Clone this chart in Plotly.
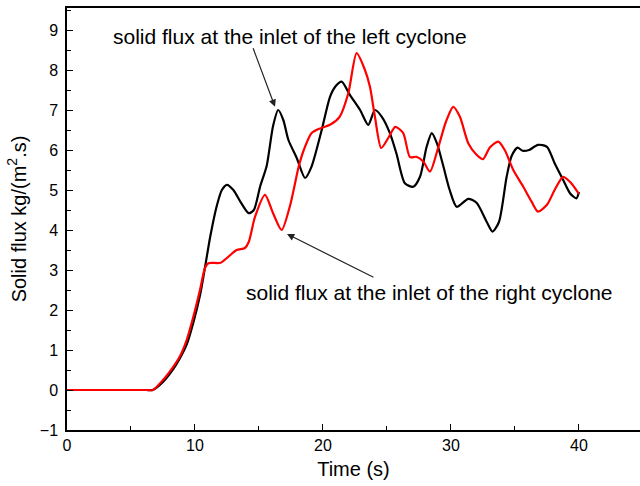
import plotly.graph_objects as go

# Time (s)
t_left = [0, 3.0, 6.2, 6.7, 7.5, 8.3, 8.8, 9.4, 9.9, 10.4, 10.8, 11.2, 11.7, 12.1, 12.5, 13.0, 13.6, 14.2,
          14.6, 15.1, 15.6, 16.1, 16.5, 16.9, 17.3, 17.95, 18.6, 19.1, 19.9, 20.55, 21.0, 21.46,
          22.1, 22.9, 23.54, 24.06, 24.6, 25.23, 25.75, 26.4, 27.05, 27.58, 28.1, 28.5, 28.9,
          29.4, 29.9, 30.45, 31.35, 32.0, 32.8, 33.25, 33.75, 34.35, 34.74, 35.2, 35.6, 36.1,
          36.8, 37.5, 38.1, 38.77, 39.3, 39.8, 40.0]
flux_left = [0, 0, 0, 0, 0.2, 0.52, 0.78, 1.18, 1.72, 2.38, 3.1, 3.85, 4.6, 5.0, 5.13, 5.0, 4.68, 4.42,
             4.5, 5.1, 5.6, 6.6, 7.0, 6.75, 6.25, 5.8, 5.3, 5.58, 6.5, 7.33, 7.6, 7.71,
             7.38, 7.0, 6.63, 7.0, 6.83, 6.42, 5.9, 5.17, 5.08, 5.33, 6.08, 6.42, 6.17,
             5.6, 5.0, 4.58, 4.78, 4.68, 4.2, 3.96, 4.2, 5.33, 5.85, 6.06, 5.98, 6.0,
             6.13, 6.08, 5.67, 5.25, 4.92, 4.79, 4.95]

t_right = [0, 3.0, 6.2, 6.7, 7.5, 8.3, 8.8, 9.35, 9.87, 10.39, 10.78, 11.04, 12.0, 12.6, 13.26, 13.9, 14.2,
           14.69, 15.47, 16.1, 16.77, 17.42, 18.1, 18.5, 19.1, 19.77, 20.55, 21.3, 21.98, 22.63,
           23.28, 23.67, 24.06, 24.55, 25.1, 25.65, 26.27, 26.8, 27.3, 27.84, 28.36, 28.95, 29.6,
           30.18, 30.7, 31.35, 32.0, 32.5, 33.05, 33.7, 34.2, 34.87, 35.65, 36.3, 36.8, 37.5,
           38.1, 38.77, 39.4, 40.0]
flux_right = [0, 0, 0, 0, 0.25, 0.58, 0.83, 1.25, 1.83, 2.5, 3.05, 3.17, 3.18, 3.33, 3.5, 3.55, 3.7,
              4.33, 4.88, 4.42, 4.0, 4.6, 5.58, 6.0, 6.42, 6.54, 6.63, 6.83, 7.42, 8.42,
              8.0, 7.58, 6.83, 6.05, 6.3, 6.58, 6.42, 5.82, 5.83, 5.71, 5.46, 6.0, 6.7,
              7.08, 6.83, 6.17, 5.88, 5.77, 6.07, 6.21, 6.0, 5.5, 5.08, 4.71, 4.46, 4.63,
              5.0, 5.33, 5.17, 4.9]

x_ticks = [0, 10, 20, 30, 40]
y_ticks = [-1, 0, 1, 2, 3, 4, 5, 6, 7, 8, 9]

FONT = "Arial, Liberation Sans, sans-serif"

fig = go.Figure()
fig.add_trace(go.Scatter(x=t_left, y=flux_left, mode="lines",
                         line=dict(color="black", width=2.2, shape="spline", smoothing=0.7),
                         name="left cyclone"))
fig.add_trace(go.Scatter(x=t_right, y=flux_right, mode="lines",
                         line=dict(color="#ff0000", width=2.2, shape="spline", smoothing=0.7),
                         name="right cyclone"))

fig.add_annotation(x=16.25, y=7.08, ax=14.5, ay=8.58, xref="x", yref="y", axref="x", ayref="y",
                   showarrow=True, arrowhead=2, arrowsize=1.2, arrowwidth=1.2, arrowcolor="#222",
                   text="")
fig.add_annotation(x=17.19, y=3.9, ax=24.06, ay=2.8, xref="x", yref="y", axref="x", ayref="y",
                   showarrow=True, arrowhead=2, arrowsize=1.2, arrowwidth=1.2, arrowcolor="#222",
                   text="")
fig.add_annotation(x=3.45, y=8.83, xref="x", yref="y", xanchor="left", yanchor="middle",
                   showarrow=False, text="solid flux at the inlet of the left cyclone",
                   font=dict(family=FONT, size=21, color="black"))
fig.add_annotation(x=13.8, y=2.45, xref="x", yref="y", xanchor="left", yanchor="middle",
                   showarrow=False, text="solid flux at the inlet of the right cyclone",
                   font=dict(family=FONT, size=21, color="black"))

fig.update_layout(
    width=640, height=486,
    margin=dict(l=67, r=0, t=8, b=56),
    paper_bgcolor="white", plot_bgcolor="white",
    showlegend=False,
    font=dict(family=FONT, color="black"),
)
fig.update_xaxes(
    range=[0, 44.77], tickvals=x_ticks, ticks="inside", ticklen=6, tickwidth=1.2,
    showline=True, linecolor="black", linewidth=1.5, mirror=True, showgrid=False, zeroline=False,
    minor=dict(dtick=5, tick0=0, ticks="inside", ticklen=4, tickwidth=1, tickcolor="black"),
    tickfont=dict(size=16), tickcolor="black",
    title=dict(text="Time (s)", font=dict(size=20), standoff=9),
)
fig.update_yaxes(
    range=[-1, 9.55], tickvals=y_ticks, ticks="inside", ticklen=6, tickwidth=1.2,
    showline=True, linecolor="black", linewidth=1.5, mirror=False, showgrid=False, zeroline=False,
    minor=dict(dtick=0.5, tick0=0, ticks="inside", ticklen=4, tickwidth=1, tickcolor="black"),
    tickfont=dict(size=16), tickcolor="black", ticklabelstandoff=4,
    title=dict(text="Solid flux kg/(m<sup>2</sup>.s)", font=dict(size=20), standoff=8),
)

fig.write_html("out.html")
